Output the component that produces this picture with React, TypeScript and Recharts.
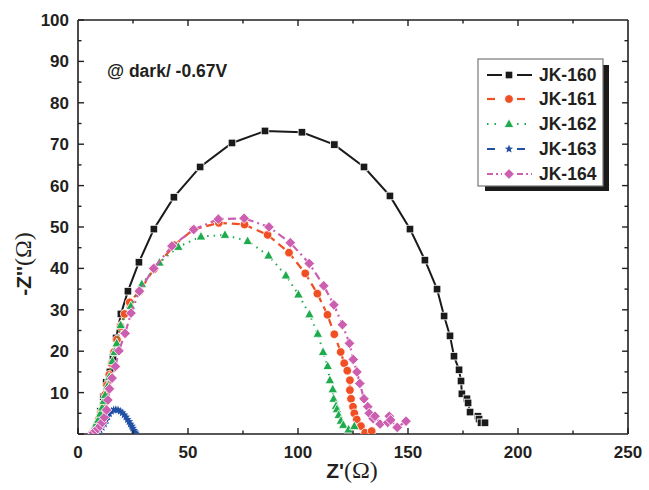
import React from "react"
import {
  ScatterChart,
  Scatter,
  XAxis,
  YAxis,
  ZAxis,
  ReferenceLine,
} from "recharts"

// Nyquist data, [Z', -Z''] in ohm
const jk160: [number, number][] = [
  [8, 0.5], [9, 2.5], [10.2, 5.5], [11.5, 9], [12.8, 12.5], [14.5, 15.0],
  [15.9, 18.6], [17.3, 23.2], [19.5, 29.0], [22.7, 34.5], [27.7, 41.5],
  [34.5, 49.5], [43.6, 57.2], [55.5, 64.5], [70.0, 70.3], [85.0, 73.2],
  [101.8, 72.9], [116.5, 69.9], [130.0, 64.5], [141.8, 57.5], [150.9, 49.5],
  [157.7, 42.0], [163.2, 35.0], [166.4, 28.5], [169.1, 23.7], [170.9, 18.8],
  [173.2, 15.5], [174.1, 12.8], [174.5, 9.7], [176.8, 8.5], [177.3, 7.5],
  [178.2, 5.3], [181.8, 4.3], [182.3, 3.6], [183.2, 2.7], [185.0, 2.7],
]

const jk161: [number, number][] = [
  [6.5, 0.3], [7.5, 1], [8.5, 2.2], [9.5, 3.6], [10.5, 5.3], [11.5, 7.3],
  [12.3, 9.5], [13.2, 11.8], [14.2, 14.3], [15.3, 17], [16.4, 19.8],
  [17.7, 22.8], [19.3, 26], [21.2, 29], [23.5, 31.8], [27.9, 34.5],
  [34.5, 39.8], [43.8, 45.6], [52.4, 49.4], [64, 51], [75.7, 50.6],
  [86.2, 48.1], [95.9, 43.8], [103.3, 38.8], [108.8, 33.9], [113.4, 28.8],
  [116.5, 24.1], [119.4, 19.8], [121.0, 17.1], [122.4, 15.3], [123.6, 13.0],
  [123.6, 10.6], [124.1, 8.5], [125.0, 6.6], [125.6, 5.0], [126.7, 3.5],
  [128.6, 1.9], [130.5, 0.3], [133.5, 0.7],
]

const jk162: [number, number][] = [
  [6.5, 0.5], [7.3, 1.4], [8.3, 2.5], [9.2, 3.4], [10.1, 4.9], [11.0, 6.4],
  [11.7, 8], [12.3, 9.4], [13.3, 11.5], [14.2, 13.8], [15.6, 17.6],
  [16.6, 19.8], [17.6, 21.9], [19.4, 26.3], [24.0, 30.9], [29.0, 36.2],
  [37.0, 41.4], [45.6, 45.2], [55.9, 47.7], [66.8, 48.1], [77.1, 46.6],
  [86.6, 43.1], [94.5, 38.3], [100.2, 33.7], [105.2, 28.9], [109.0, 24.2],
  [111.4, 19.8], [113.5, 16.4], [114.5, 13.0], [115.8, 10.8], [116.2, 8.5],
  [117.3, 6.8], [117.7, 6.0], [118.5, 4.6], [119.5, 3.2], [120.6, 2.2],
  [123.0, 1.1], [125.6, 1.9],
]

const jk163: [number, number][] = [
  [8, 0.3], [9, 0.6], [10, 1.0], [11, 1.6], [12, 2.4], [12.8, 3.3],
  [13.5, 4.2], [14.3, 4.9], [15.2, 5.5], [16.2, 5.8], [17.2, 5.9],
  [18.2, 5.8], [19.2, 5.5], [20.1, 5.1], [21, 4.6], [21.8, 4.1], [22.5, 3.5],
  [23.2, 3.0], [23.8, 2.4], [24.4, 1.9], [24.9, 1.4], [25.4, 0.9],
  [25.8, 0.5], [26.2, 0.2],
]

const jk164: [number, number][] = [
  [7, 0.3], [8, 0.8], [9, 1.3], [10, 1.9], [11, 2.8], [12, 4], [13, 5.8],
  [13.6, 8.2], [14.3, 10.9], [15.5, 13.5], [17, 16.3], [18.6, 20.1],
  [21.4, 24.3], [24.1, 29.2], [27.9, 34.5], [34.4, 40.0], [42.7, 45.4],
  [52.6, 49.4], [63.8, 51.9], [75.5, 52.1], [86.8, 50.0], [96.5, 46.2],
  [105.1, 41.2], [111.7, 35.8], [116.3, 31.2], [120.2, 26.4], [123.4, 21.9],
  [125.1, 18.0], [126.8, 15.0], [128.1, 12.2], [130.0, 8.5], [131.7, 6.6],
  [132.4, 5.0], [134.2, 3.7], [135.0, 4.3], [137.3, 2.4], [140.8, 2.8],
  [141.5, 4.3], [142.1, 3.4], [145.1, 1.6], [149.1, 3.1],
]

const xTicks = [0, 25, 50, 75, 100, 125, 150, 175, 200, 225, 250]
const yTicks = [0, 5, 10, 15, 20, 25, 30, 35, 40, 45, 50, 55, 60, 65, 70, 75, 80, 85, 90, 95, 100]

const INK = "#231f20"
const FONT = "'Liberation Sans', Arial, sans-serif"
const SERIF = "'Liberation Serif', 'Times New Roman', serif"

type Shape = "square" | "circle" | "triangle" | "star" | "diamond"

const seriesDefs = [
  { name: "JK-160", data: jk160, color: "#1a1a1a", shape: "square" as Shape, dash: undefined, legendDash: undefined, width: 2 },
  { name: "JK-161", data: jk161, color: "#f04e23", shape: "circle" as Shape, dash: "8 5", legendDash: "8 8", width: 2.2 },
  { name: "JK-162", data: jk162, color: "#1faa4d", shape: "triangle" as Shape, dash: "1.5 5", legendDash: "1.5 6", width: 2 },
  { name: "JK-163", data: jk163, color: "#2150a6", shape: "star" as Shape, dash: "7 4", legendDash: "8 8", width: 2 },
  { name: "JK-164", data: jk164, color: "#cc5fb0", shape: "diamond" as Shape, dash: "8 4 2 4", legendDash: "6 3 2 3", width: 2.2 },
]

function Marker({ cx, cy, shape, color }: { cx: number; cy: number; shape: Shape; color: string }) {
  if (cx == null || cy == null) return null
  const s = { fill: color, stroke: "#fff", strokeWidth: 0.8 }
  switch (shape) {
    case "square":
      return <rect x={cx - 3.8} y={cy - 3.8} width={7.6} height={7.6} {...s} />
    case "circle":
      return <circle cx={cx} cy={cy} r={4.3} {...s} />
    case "triangle":
      return <polygon points={`${cx},${cy - 5.2} ${cx + 4.8},${cy + 3.5} ${cx - 4.8},${cy + 3.5}`} {...s} />
    case "diamond":
      return <polygon points={`${cx},${cy - 5.3} ${cx + 5.3},${cy} ${cx},${cy + 5.3} ${cx - 5.3},${cy}`} {...s} />
    case "star": {
      const pts: string[] = []
      for (let i = 0; i < 10; i++) {
        const r = i % 2 === 0 ? 4.4 : 1.9
        const a = -Math.PI / 2 + (i * Math.PI) / 5
        pts.push(`${cx + r * Math.cos(a)},${cy + r * Math.sin(a)}`)
      }
      return <polygon points={pts.join(" ")} fill={color} />
    }
  }
  return null
}

function BottomTick({ x, y, payload }: any) {
  const major = payload.value % 50 === 0
  return (
    <g>
      <line x1={x} x2={x} y1={y} y2={y - (major ? 6 : 3.5)} stroke={INK} strokeWidth={1.4} />
      {major && (
        <text x={x} y={y + 24} textAnchor="middle" fontFamily={FONT} fontWeight="bold" fontSize={17} fill={INK}>
          {payload.value}
        </text>
      )}
    </g>
  )
}

function LeftTick({ x, y, payload }: any) {
  const major = payload.value % 10 === 0
  return (
    <g>
      <line x1={x} x2={x + (major ? 6 : 3.5)} y1={y} y2={y} stroke={INK} strokeWidth={1.4} />
      {major && payload.value !== 0 && (
        <text x={x - 9} y={y + 6} textAnchor="end" fontFamily={FONT} fontWeight="bold" fontSize={17} fill={INK}>
          {payload.value}
        </text>
      )}
    </g>
  )
}

// short inward ticks on the top and right frame edges, in data units
const topTickLen = (v: number) => (v % 50 === 0 ? 1.45 : 0.85)
const rightTickLen = (v: number) => (v % 10 === 0 ? 2.7 : 1.6)

function Legend() {
  const rowY = [75, 99, 124, 149, 174]
  return (
    <svg width={649} height={490} style={{ position: "absolute", left: 0, top: 0, pointerEvents: "none" }}>
      <rect x={485} y={65} width={124} height={126} fill="#1a1a1a" />
      <rect x={478} y={59} width={125} height={127} fill="#fff" stroke="#777" strokeWidth={1.2} />
      {seriesDefs.map((s, i) => (
        <g key={s.name}>
          <line x1={487} x2={502} y1={rowY[i]} y2={rowY[i]} stroke={s.color} strokeWidth={s.width} strokeDasharray={s.legendDash} />
          <line x1={517} x2={532} y1={rowY[i]} y2={rowY[i]} stroke={s.color} strokeWidth={s.width} strokeDasharray={s.legendDash} />
          <Marker cx={509} cy={rowY[i]} shape={s.shape} color={s.color} />
          <text x={539} y={rowY[i] + 6} fontFamily={FONT} fontWeight="bold" fontSize={17.5} fill={INK}>
            {s.name}
          </text>
        </g>
      ))}
    </svg>
  )
}

export default function App() {
  return (
    <div style={{ position: "absolute", left: 0, top: 0, width: 649, height: 490, background: "#fff" }}>
      <ScatterChart width={649} height={490} margin={{ top: 20, right: 21, bottom: 0, left: 0 }}>
        <XAxis
          type="number"
          dataKey="x"
          domain={[0, 250]}
          ticks={xTicks}
          interval={0}
          height={56}
          tickSize={0}
          tickMargin={0}
          tickLine={false}
          axisLine={{ stroke: INK, strokeWidth: 1.6 }}
          tick={<BottomTick />}
          allowDataOverflow
        />
        <YAxis
          type="number"
          dataKey="y"
          domain={[0, 100]}
          ticks={yTicks}
          interval={0}
          width={78}
          tickSize={0}
          tickMargin={0}
          tickLine={false}
          axisLine={{ stroke: INK, strokeWidth: 1.6 }}
          tick={<LeftTick />}
          allowDataOverflow
        />
        <ZAxis range={[50, 50]} />
        <ReferenceLine y={100} stroke={INK} strokeWidth={1.6} ifOverflow="visible" />
        <ReferenceLine x={250} stroke={INK} strokeWidth={1.6} ifOverflow="visible" />
        {xTicks.slice(1, -1).map((v) => (
          <ReferenceLine
            key={`t${v}`}
            segment={[{ x: v, y: 100 }, { x: v, y: 100 - topTickLen(v) }]}
            stroke={INK}
            strokeWidth={1.4}
          />
        ))}
        {yTicks.slice(1, -1).map((v) => (
          <ReferenceLine
            key={`r${v}`}
            segment={[{ x: 250, y: v }, { x: 250 - rightTickLen(v), y: v }]}
            stroke={INK}
            strokeWidth={1.4}
          />
        ))}
        {seriesDefs.map((s) => (
          <Scatter
            key={s.name}
            name={s.name}
            data={s.data.map(([x, y]) => ({ x, y }))}
            line={{ stroke: s.color, strokeWidth: s.width, strokeDasharray: s.dash }}
            lineType="joint"
            shape={(p: any) => <Marker cx={p.cx} cy={p.cy} shape={s.shape} color={s.color} />}
            isAnimationActive={false}
          />
        ))}
        <text x={107} y={77} fontFamily={FONT} fontWeight="bold" fontSize={17.5} fill={INK}>
          @ dark/ -0.67V
        </text>
        <text x={352} y={478} textAnchor="middle" fill={INK}>
          <tspan fontFamily={FONT} fontWeight="bold" fontSize={21}>Z'</tspan>
          <tspan fontFamily={SERIF} fontSize={24}>(Ω)</tspan>
        </text>
        <text x={0} y={0} textAnchor="middle" fill={INK} transform="translate(31 264) rotate(-90)">
          <tspan fontFamily={FONT} fontWeight="bold" fontSize={21}>-Z''</tspan>
          <tspan fontFamily={SERIF} fontSize={24}>(Ω)</tspan>
        </text>
      </ScatterChart>
      <Legend />
    </div>
  )
}
